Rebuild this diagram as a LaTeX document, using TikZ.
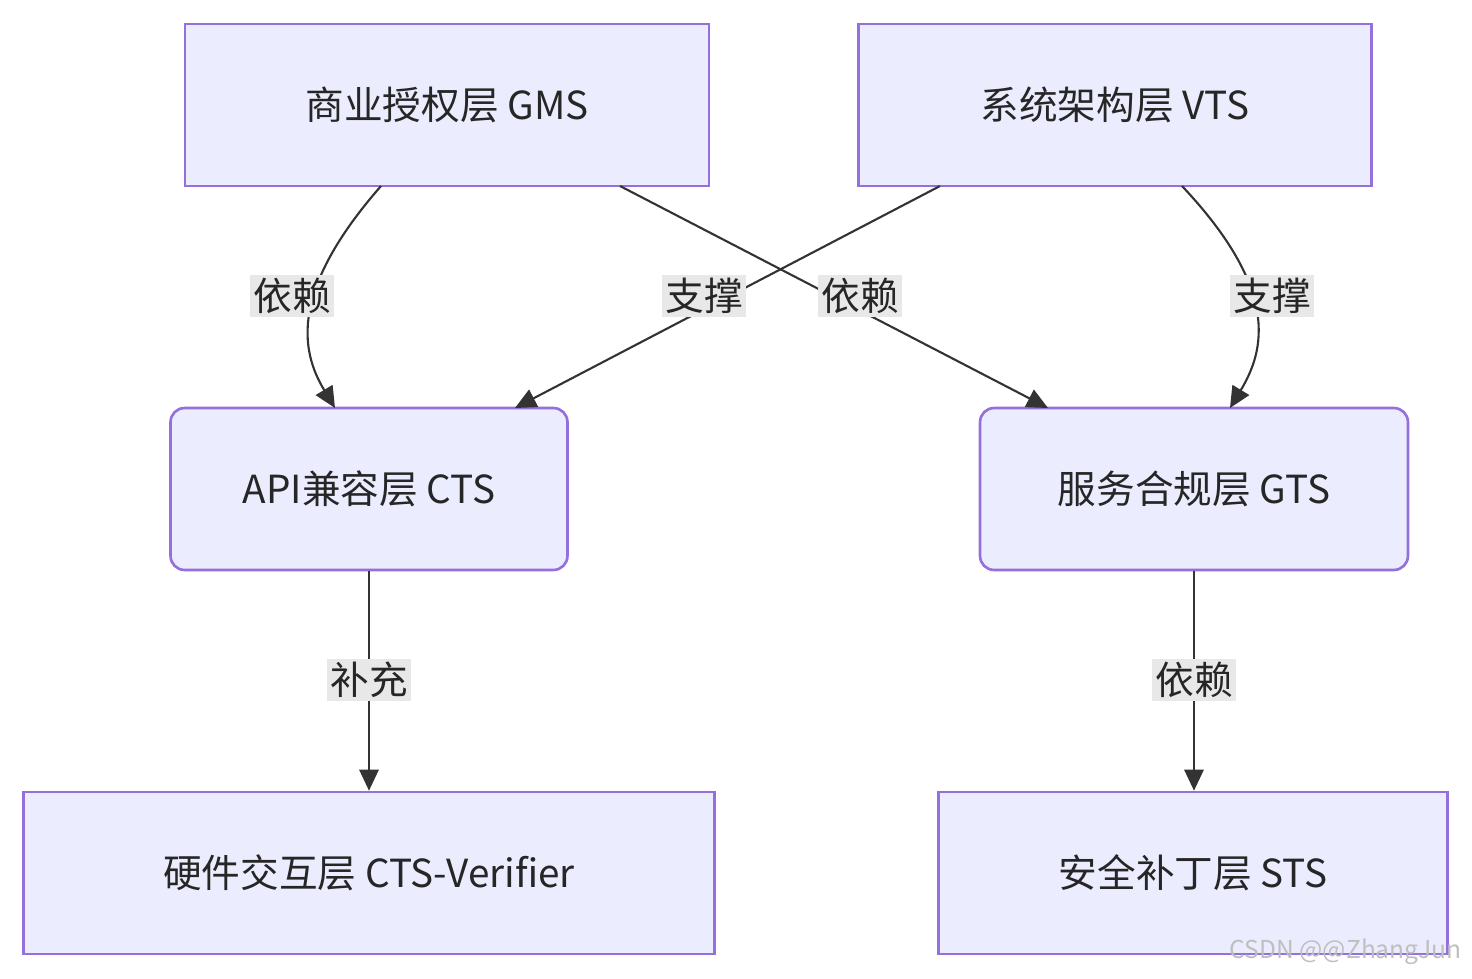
\documentclass[tikz,border=0pt]{standalone}
\usepackage{fontspec}
\setmainfont{Noto Sans CJK SC}
\usetikzlibrary{arrows.meta}
\definecolor{boxfill}{HTML}{ECECFF}
\definecolor{boxline}{HTML}{9370DB}
\definecolor{lblfill}{HTML}{E8E8E8}
\definecolor{edge}{HTML}{333333}
\begin{document}
\begin{tikzpicture}[
    x=0.02cm, y=-0.02cm,
    box/.style = {draw=boxline, fill=boxfill, line width=1.5pt, inner sep=0pt, font=\fontsize{22}{26}\selectfont, text=black!85},
    rbox/.style = {box, rounded corners=8pt},
    lbl/.style = {fill=lblfill, inner sep=2pt, font=\fontsize{22}{26}\selectfont, text=black!85},
    link/.style = {draw=edge, line width=1.2pt, -{Triangle[length=12pt,width=11pt]}}
]
    \useasboundingbox (0,0) rectangle (1472,978);

    \node[box, minimum width=10.48cm, minimum height=3.24cm] (gms) at (447,105) {商业授权层 GMS};
    \node[box, minimum width=10.26cm, minimum height=3.24cm] (vts) at (1115,105) {系统架构层 VTS};
    \node[rbox, minimum width=7.94cm, minimum height=3.24cm] (cts) at (369,489) {API兼容层 CTS};
    \node[rbox, minimum width=8.56cm, minimum height=3.24cm] (gts) at (1194,489) {服务合规层 GTS};
    \node[box, minimum width=13.82cm, minimum height=3.24cm] (ver) at (369,873) {硬件交互层 CTS-Verifier};
    \node[box, minimum width=10.18cm, minimum height=3.24cm] (sts) at (1193,873) {安全补丁层 STS};

    \coordinate (g1) at (381,186);
    \coordinate (g2) at (620,186);
    \coordinate (v1) at (940,186);
    \coordinate (v2) at (1182,186);
    \coordinate (c1) at (335,408);
    \coordinate (c2) at (515,408);
    \coordinate (t1) at (1048,408);
    \coordinate (t2) at (1230,408);

    \draw[link] (g1) .. controls (290,290) and (300,350) .. (c1);
    \draw[link] (v2) .. controls (1280,290) and (1265,350) .. (t2);
    \draw[link] (g2) -- (t1);
    \draw[link] (v1) -- (c2);
    \draw[link] (cts) -- (ver);
    \draw[link] (gts.south) -- (gts.south |- sts.north);

    \node[lbl] (l1) at (292,296) {依赖};
    \node[lbl] (l2) at (704,296) {支撑};
    \node[lbl] (l3) at (860,296) {依赖};
    \node[lbl] (l4) at (1272,296) {支撑};
    \node[lbl] (l5) at (369,680) {补充};
    \node[lbl] (l6) at (1194,680) {依赖};

    \node[text=black!25, font=\fontsize{14}{16}\selectfont, anchor=east] (wm) at (1468,952) {CSDN @@ZhangJun};
\end{tikzpicture}
\end{document}
